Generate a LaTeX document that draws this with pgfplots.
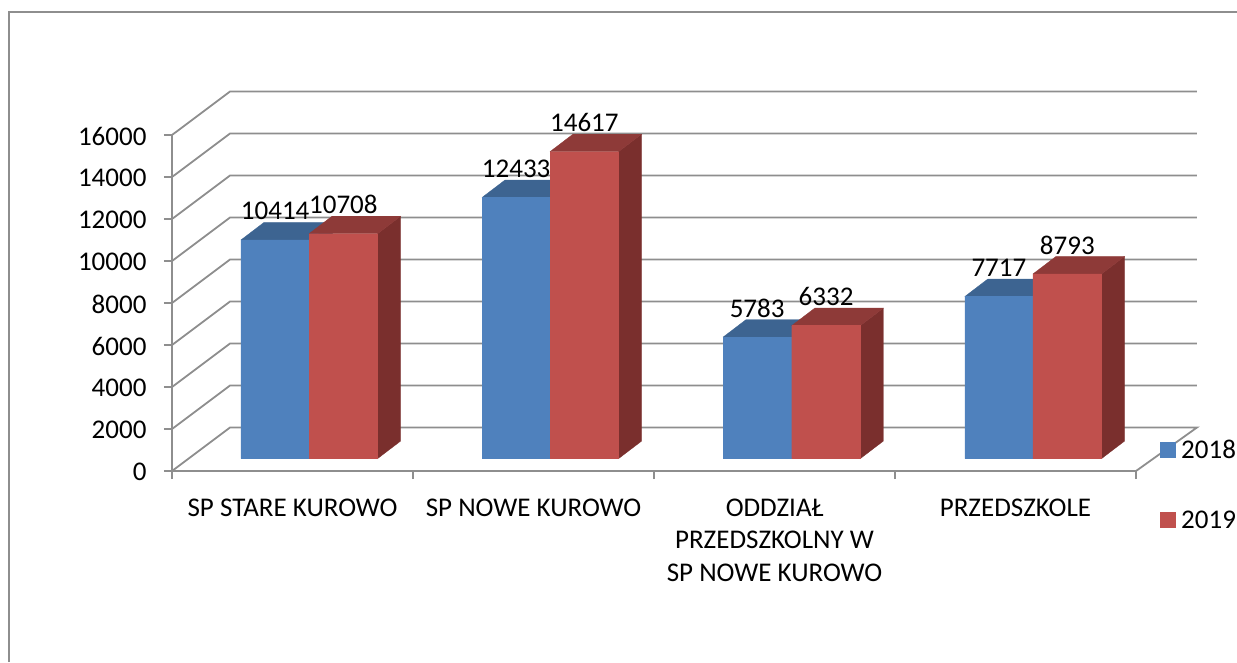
\documentclass[border=0pt]{standalone}
\usepackage{fontspec}
\setmainfont{Carlito}
\usepackage{pgfplots}
\pgfplotsset{compat=1.18}
\definecolor{gridgray}{HTML}{8E8E8E}
\definecolor{blueF}{HTML}{4F81BD}
\definecolor{blueT}{HTML}{3D6491}
\definecolor{blueS}{HTML}{325276}
\definecolor{redF}{HTML}{C0504D}
\definecolor{redT}{HTML}{8E3A38}
\definecolor{redS}{HTML}{7A2F2D}
% 1 x unit = 241 px, 1 y unit = 0.021 px
\newcommand\wall[1]{%
  \edef\yb{\the\numexpr#1+2071\relax}%
  \addplot[forget plot, gridgray, line width=1.8pt] coordinates {(0,#1) (0.2407,\yb) (4.253,\yb)};
}
% left edge, value, front, top, side
\newcommand\threedbar[5]{%
  \pgfmathsetmacro\xa{#1}%
  \pgfmathsetmacro\xb{#1+0.2845}%
  \pgfmathsetmacro\xc{#1+0.0954}%
  \pgfmathsetmacro\xd{#1+0.2845+0.0954}%
  \edef\ya{590}%
  \edef\yb{\the\numexpr590+#2\relax}%
  \edef\yc{\the\numexpr590+#2+833\relax}%
  \edef\yd{\the\numexpr590+833\relax}%
  \addplot[forget plot, draw=#5, line width=0.3pt, fill=#5] coordinates {(\xb,\ya) (\xb,\yb) (\xd,\yc) (\xd,\yd) (\xb,\ya)};
  \addplot[forget plot, draw=#4, line width=0.3pt, fill=#4] coordinates {(\xa,\yb) (\xc,\yc) (\xd,\yc) (\xb,\yb) (\xa,\yb)};
  \addplot[forget plot, draw=#3, line width=0.3pt, fill=#3] coordinates {(\xa,\ya) (\xa,\yb) (\xb,\yb) (\xb,\ya) (\xa,\ya)};
}
\begin{document}
\begin{tikzpicture}[x=1pt,y=1pt]
\useasboundingbox (0,0) rectangle (1237,662);
\draw[gridgray, line width=1.8pt] (9,0) -- (9,650) -- (1237,650);
\begin{axis}[
    at={(172pt,191pt)},
    anchor=origin,
    scale only axis,
    width=964pt,
    height=336pt,
    xmin=0, xmax=4,
    ymin=0, ymax=16000,
    clip=false,
    axis x line=bottom,
    axis y line=left,
    axis line style={-, gridgray, line width=1.8pt},
    tick style={gridgray, line width=1.8pt},
    major tick length=8pt,
    tick align=outside,
    ytick={0,2000,...,16000},
    scaled y ticks=false,
    xtick={0,1,2,3,4},
    xticklabels={,,,,},
    extra x ticks={0.5,1.5,2.5,3.5},
    extra x tick labels={SP STARE KUROWO, SP NOWE KUROWO, {ODDZIAŁ\\PRZEDSZKOLNY W\\SP NOWE KUROWO}, PRZEDSZKOLE},
    extra x tick style={major tick length=0pt, xticklabel style={yshift=-24pt}},
    x tick label style={align=center, font=\fontsize{27}{32.5}\selectfont},
    y tick label style={font=\fontsize{27}{30}\selectfont, xshift=-14pt, yshift=-1pt},
    /pgf/number format/1000 sep={},
    /pgf/number format/assume math mode=true,
    legend style={at={(axis cs:4.098,1600)}, anchor=north west, draw=none, fill=none,
        font=\fontsize{27}{30}\selectfont, inner sep=0pt, row sep=47pt},
    legend cell align=left,
]
\addlegendimage{legend image code/.code={\fill[blueF] (0pt,-7.5pt) rectangle (15pt,7.5pt);}}
\addlegendentry{\hspace{4pt}2018}
\addlegendimage{legend image code/.code={\fill[redF] (0pt,-7.5pt) rectangle (15pt,7.5pt);}}
\addlegendentry{\hspace{4pt}2019}
\addplot[forget plot, gridgray, line width=1.8pt] coordinates {(0,0) (0.2407,2071) (4.253,2071) (4,0)};
\wall{2000}\wall{4000}\wall{6000}\wall{8000}\wall{10000}\wall{12000}\wall{14000}\wall{16000}
\threedbar{0.2863}{10414}{blueF}{blueT}{blueS}
\threedbar{0.5685}{10708}{redF}{redT}{redS}
\threedbar{1.2863}{12433}{blueF}{blueT}{blueS}
\threedbar{1.5685}{14617}{redF}{redT}{redS}
\threedbar{2.2863}{5783}{blueF}{blueT}{blueS}
\threedbar{2.5715}{6332}{redF}{redT}{redS}
\threedbar{3.2895}{7717}{blueF}{blueT}{blueS}
\threedbar{3.5725}{8793}{redF}{redT}{redS}
\addplot[forget plot, draw=none, point meta=explicit symbolic,
    nodes near coords, nodes near coords align={anchor=center},
    every node near coord/.append style={font=\fontsize{27}{30}\selectfont, black, yshift=30pt}]
  coordinates {
    (0.428,10952)[10414] (0.711,11246)[10708]
    (1.428,12971)[12433] (1.711,15155)[14617]
    (2.428,6321)[5783] (2.714,6870)[6332]
    (3.431,8255)[7717] (3.715,9331)[8793]
  };
\end{axis}
\end{tikzpicture}
\end{document}
